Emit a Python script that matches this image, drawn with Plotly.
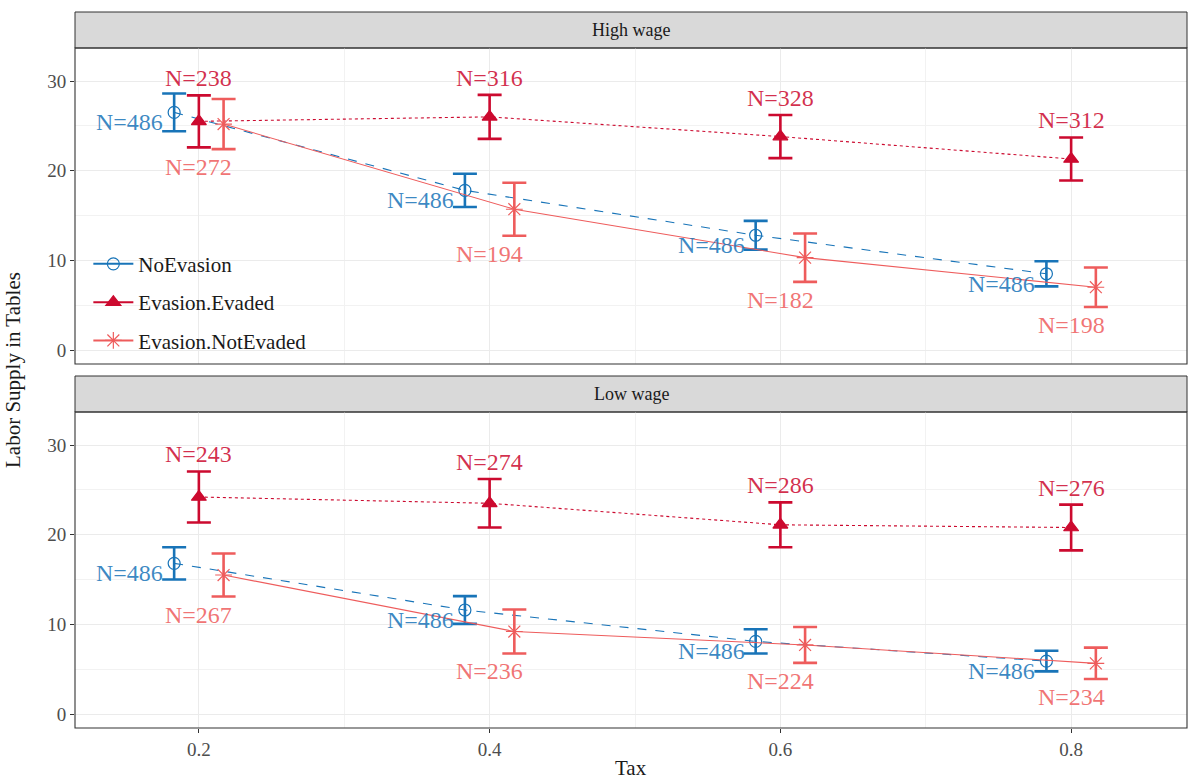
import plotly.graph_objects as go

# ---- data -------------------------------------------------------------
tax = [0.2, 0.4, 0.6, 0.8]
tax_ticks = [0.2, 0.4, 0.6, 0.8]
tax_tick_labels = ["0.2", "0.4", "0.6", "0.8"]
supply_ticks = [0, 10, 20, 30]

panels = ["High wage", "Low wage"]
groups = ["NoEvasion", "Evasion.Evaded", "Evasion.NotEvaded"]

# High wage panel: mean labor supply and half-width of the CI
high_noev_mean = [26.5, 17.8, 12.8, 8.5]
high_noev_ci = [2.1, 1.85, 1.6, 1.4]
high_noev_n = [486, 486, 486, 486]

high_ev_mean = [25.5, 26.0, 23.8, 21.3]
high_ev_ci = [2.9, 2.45, 2.4, 2.4]
high_ev_n = [238, 316, 328, 312]

high_nev_mean = [25.2, 15.7, 10.3, 7.0]
high_nev_ci = [2.8, 2.95, 2.7, 2.2]
high_nev_n = [272, 194, 182, 198]

# Low wage panel
low_noev_mean = [16.8, 11.6, 8.1, 5.9]
low_noev_ci = [1.8, 1.55, 1.35, 1.15]
low_noev_n = [486, 486, 486, 486]

low_ev_mean = [24.2, 23.5, 21.1, 20.8]
low_ev_ci = [2.85, 2.7, 2.5, 2.55]
low_ev_n = [243, 274, 286, 276]

low_nev_mean = [15.5, 9.2, 7.7, 5.65]
low_nev_ci = [2.4, 2.45, 2.0, 1.75]
low_nev_n = [267, 236, 224, 234]

# ---- styling -----------------------------------------------------------
FONT = "Liberation Serif, Times New Roman, serif"
BLUE = "#1874B8"
RED = "#CC0A2F"
PINK = "#EE5C5C"
BLUE_T = "rgba(24,116,184,0.85)"
RED_T = "rgba(204,10,47,0.85)"
PINK_T = "rgba(238,92,92,0.85)"

DODGE = 0.017

style = {
    "NoEvasion": dict(color=BLUE, tcolor=BLUE_T, dx=-DODGE, dash="dash",
                      symbol="circle-open", size=12, lw=1.1),
    "Evasion.Evaded": dict(color=RED, tcolor=RED_T, dx=0.0, dash="dot",
                           symbol="triangle-up", size=13, lw=1.1),
    "Evasion.NotEvaded": dict(color=PINK, tcolor=PINK_T, dx=DODGE, dash="solid",
                              symbol="asterisk-open", size=14, lw=1.1),
}

panel_data = {
    "High wage": {
        "NoEvasion": (high_noev_mean, high_noev_ci, high_noev_n),
        "Evasion.Evaded": (high_ev_mean, high_ev_ci, high_ev_n),
        "Evasion.NotEvaded": (high_nev_mean, high_nev_ci, high_nev_n),
    },
    "Low wage": {
        "NoEvasion": (low_noev_mean, low_noev_ci, low_noev_n),
        "Evasion.Evaded": (low_ev_mean, low_ev_ci, low_ev_n),
        "Evasion.NotEvaded": (low_nev_mean, low_nev_ci, low_nev_n),
    },
}

# ---- geometry (pixels inside a 1188 x 781 page) ------------------------
W, H = 1188, 781
M_L, M_R, M_T, M_B = 75, 1, 12, 53
PH = H - M_T - M_B


def frac(ypx):
    return (H - M_B - ypx) / PH


top_dom = [frac(364), frac(48)]
bot_dom = [0.0, frac(412)]
strips = [(frac(48), 1.0, "High wage"), (frac(412), frac(376), "Low wage")]

XR = [0.1148, 0.8797]
YR = [-1.56, 33.68]

fig = go.Figure()
annotations = []

for pi, panel in enumerate(panels):
    xa = "x" if pi == 0 else "x2"
    ya = "y" if pi == 0 else "y2"
    for g in groups:
        mean, ci, n = panel_data[panel][g]
        s = style[g]
        xs = [t + s["dx"] for t in tax]
        fig.add_trace(go.Scatter(
            x=xs, y=mean, xaxis=xa, yaxis=ya,
            mode="lines+markers", name=g,
            showlegend=False,
            line=dict(color=s["color"], width=s["lw"], dash=s["dash"]),
            marker=dict(symbol=s["symbol"], size=s["size"], color=s["color"],
                        line=dict(color=s["color"], width=1.2)),
            error_y=dict(type="data", array=ci, visible=True, color=s["color"],
                         thickness=2.6, width=12),
        ))
        for t, m, c, k in zip(tax, mean, ci, n):
            txt = f"N={k}"
            if g == "NoEvasion":
                annotations.append(dict(
                    x=t + s["dx"], y=m, xref=xa, yref=ya, text=txt,
                    showarrow=False, xanchor="right", yanchor="middle",
                    xshift=-9, yshift=-10,
                    font=dict(family=FONT, size=24, color=s["tcolor"])))
            elif g == "Evasion.Evaded":
                annotations.append(dict(
                    x=t, y=m + c, xref=xa, yref=ya, text=txt,
                    showarrow=False, xanchor="center", yanchor="bottom",
                    yshift=2,
                    font=dict(family=FONT, size=24, color=s["tcolor"])))
            else:
                annotations.append(dict(
                    x=t, y=m - c, xref=xa, yref=ya, text=txt,
                    showarrow=False, xanchor="center", yanchor="top",
                    yshift=-3,
                    font=dict(family=FONT, size=24, color=s["tcolor"])))

# legend keys: solid line through the marker
for g in groups:
    s = style[g]
    fig.add_trace(go.Scatter(
        x=[None], y=[None], xaxis="x", yaxis="y",
        mode="lines+markers", name=g, legendgroup=g, showlegend=True,
        line=dict(color=s["color"], width=2.0, dash="solid"),
        marker=dict(symbol=s["symbol"], size=s["size"], color=s["color"],
                    line=dict(color=s["color"], width=1.2)),
    ))

# strip headers and panel borders
shapes = []
for y0, y1, label in strips:
    shapes.append(dict(type="rect", xref="paper", yref="paper",
                       x0=0, x1=1, y0=y0, y1=y1,
                       fillcolor="#D9D9D9", line=dict(color="#333333", width=1),
                       layer="below"))
    annotations.append(dict(x=0.5, y=(y0 + y1) / 2, xref="paper", yref="paper",
                            text=label, showarrow=False,
                            xanchor="center", yanchor="middle",
                            font=dict(family=FONT, size=18, color="#1A1A1A")))
for d in (top_dom, bot_dom):
    shapes.append(dict(type="rect", xref="paper", yref="paper",
                       x0=0, x1=1, y0=d[0], y1=d[1],
                       line=dict(color="#333333", width=1.1),
                       fillcolor="rgba(0,0,0,0)", layer="above"))

# axis titles
annotations.append(dict(x=-62 / (W - M_L - M_R), y=0.5, xref="paper", yref="paper",
                        text="Labor Supply in Tables", textangle=-90,
                        showarrow=False, xanchor="center", yanchor="middle",
                        font=dict(family=FONT, size=21, color="#1A1A1A")))
annotations.append(dict(x=0.5, y=-40 / PH, xref="paper", yref="paper",
                        text="Tax", showarrow=False, xanchor="center",
                        yanchor="middle",
                        font=dict(family=FONT, size=21, color="#1A1A1A")))

xcommon = dict(range=XR, tickvals=tax_ticks, ticktext=tax_tick_labels,
               showgrid=True, gridcolor="#EBEBEB", gridwidth=1.2,
               minor=dict(dtick=0.1, tick0=0.1, showgrid=True,
                          gridcolor="#F2F2F2", gridwidth=0.8),
               zeroline=False, showline=False,
               ticks="outside", ticklen=4, tickcolor="#333333",
               tickfont=dict(family=FONT, size=19, color="#4D4D4D"))
ycommon = dict(range=YR, tickvals=supply_ticks,
               showgrid=True, gridcolor="#EBEBEB", gridwidth=1.2,
               minor=dict(dtick=5, tick0=5, showgrid=True,
                          gridcolor="#F2F2F2", gridwidth=0.8),
               zeroline=False, showline=False,
               ticks="outside", ticklen=4, tickcolor="#333333",
               tickfont=dict(family=FONT, size=19, color="#4D4D4D"))

fig.update_layout(
    width=W, height=H,
    margin=dict(l=M_L, r=M_R, t=M_T, b=M_B),
    paper_bgcolor="white", plot_bgcolor="white",
    xaxis=dict(xcommon, domain=[0, 1], anchor="y", showticklabels=False,
               ticks=""),
    yaxis=dict(ycommon, domain=top_dom, anchor="x"),
    xaxis2=dict(xcommon, domain=[0, 1], anchor="y2"),
    yaxis2=dict(ycommon, domain=bot_dom, anchor="x2"),
    shapes=shapes,
    annotations=annotations,
    showlegend=True,
    legend=dict(x=0.012, y=0.513, xanchor="left", yanchor="bottom",
                bgcolor="rgba(255,255,255,0)",
                font=dict(family=FONT, size=21, color="#1A1A1A"),
                itemwidth=40, tracegroupgap=8),
    font=dict(family=FONT),
)

fig.write_html("out.html")
